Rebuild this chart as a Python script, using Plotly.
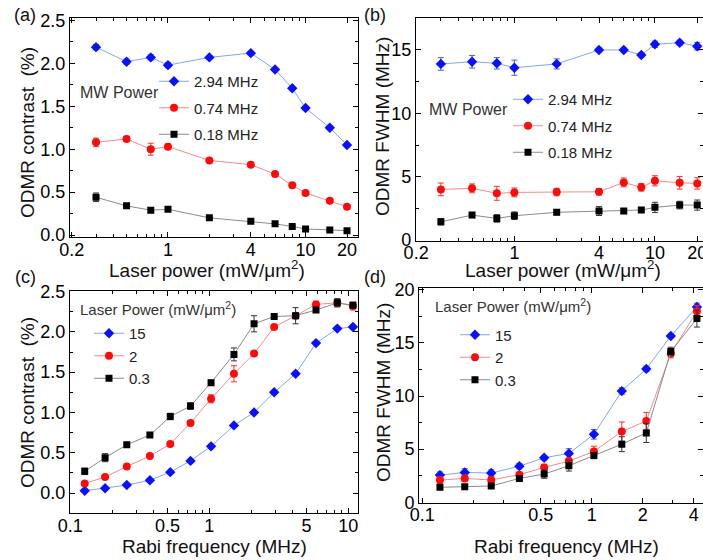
import plotly.graph_objects as go

# ---------------- data ----------------
laser_power = [0.3, 0.5, 0.75, 1, 2, 4, 6, 8, 10, 15, 20]

# (a) ODMR contrast (%) vs laser power, for three MW powers
contrast_294 = [2.19, 2.02, 2.07, 1.98, 2.07, 2.12, 1.93, 1.71, 1.48, 1.25, 1.05]
contrast_294_err = [0.03, 0.03, 0.03, 0.03, 0.02, 0.02, 0.02, 0.02, 0.02, 0.02, 0.02]
contrast_074 = [1.08, 1.12, 1.00, 1.03, 0.87, 0.82, 0.71, 0.58, 0.49, 0.40, 0.33]
contrast_074_err = [0.05, 0.03, 0.07, 0.03, 0.02, 0.02, 0.02, 0.02, 0.02, 0.02, 0.02]
contrast_018 = [0.44, 0.34, 0.29, 0.30, 0.20, 0.16, 0.13, 0.10, 0.07, 0.06, 0.05]
contrast_018_err = [0.05, 0.02, 0.03, 0.02, 0.01, 0.01, 0.01, 0.01, 0.01, 0.01, 0.01]

# (b) ODMR FWHM (MHz) vs laser power
fwhm_294 = [13.9, 14.07, 13.95, 13.6, 13.9, 15.0, 15.0, 14.6, 15.45, 15.57, 15.3]
fwhm_294_err = [0.5, 0.5, 0.45, 0.6, 0.4, 0.15, 0.15, 0.15, 0.25, 0.2, 0.3]
fwhm_074 = [4.0, 4.08, 3.69, 3.76, 3.79, 3.81, 4.55, 4.16, 4.68, 4.52, 4.47]
fwhm_074_err = [0.5, 0.35, 0.55, 0.35, 0.3, 0.25, 0.35, 0.3, 0.4, 0.5, 0.45]
fwhm_018 = [1.44, 1.97, 1.71, 1.92, 2.19, 2.29, 2.29, 2.37, 2.58, 2.76, 2.76]
fwhm_018_err = [0.25, 0.2, 0.3, 0.3, 0.2, 0.35, 0.2, 0.15, 0.4, 0.3, 0.4]

# (c) ODMR contrast (%) vs Rabi frequency, for three laser powers
rabi = [0.127, 0.178, 0.255, 0.374, 0.524, 0.733, 1.03, 1.505, 2.1, 2.93, 4.18, 5.86, 8.34, 10.8]
rc_15 = [0.03, 0.06, 0.10, 0.16, 0.26, 0.40, 0.58, 0.84, 1.00, 1.25, 1.48, 1.86, 2.04, 2.06]
rc_15_err = [0.02] * 14
rc_2 = [0.12, 0.20, 0.33, 0.46, 0.61, 0.87, 1.17, 1.48, 1.73, 2.06, 2.20, 2.34, 2.36, 2.32]
rc_2_err = [0.02, 0.02, 0.02, 0.02, 0.02, 0.02, 0.05, 0.10, 0.03, 0.02, 0.03, 0.04, 0.05, 0.05]
rc_03 = [0.27, 0.44, 0.60, 0.72, 0.95, 1.08, 1.37, 1.72, 2.10, 2.19, 2.20, 2.27, 2.36, 2.33]
rc_03_err = [0.04, 0.05, 0.03, 0.03, 0.04, 0.04, 0.03, 0.08, 0.10, 0.02, 0.10, 0.03, 0.05, 0.03]

# (d) ODMR FWHM (MHz) vs Rabi frequency
rabi_d = [0.127, 0.178, 0.255, 0.374, 0.524, 0.733, 1.03, 1.505, 2.1, 2.93, 4.18]
rf_15 = [2.56, 2.81, 2.75, 3.4, 4.19, 4.6, 6.4, 10.47, 12.56, 15.66, 18.4]
rf_15_err = [0.3, 0.35, 0.3, 0.25, 0.2, 0.45, 0.45, 0.3, 0.25, 0.2, 0.35]
rf_2 = [2.09, 2.25, 2.1, 2.6, 3.28, 3.88, 4.78, 6.66, 7.66, 14.0, 18.0]
rf_2_err = [0.3, 0.3, 0.3, 0.2, 0.3, 0.25, 0.5, 0.9, 0.8, 0.4, 0.5]
rf_03 = [1.41, 1.47, 1.53, 2.25, 2.66, 3.44, 4.4, 5.47, 6.53, 14.2, 17.3]
rf_03_err = [0.2, 0.2, 0.2, 0.2, 0.4, 0.5, 0.3, 0.7, 0.9, 0.4, 0.8]

laser_ticks = [0.2, 1, 4, 10, 20]
laser_minor = [0.3, 0.4, 0.5, 0.6, 0.7, 0.8, 0.9, 2, 3, 5, 6, 7, 8, 9]
rabi_ticks_c = [0.1, 0.5, 1, 5, 10]
rabi_ticks_d = [0.1, 0.5, 1, 2, 4]
rabi_minor = [0.2, 0.3, 0.4, 0.6, 0.7, 0.8, 0.9, 2, 3, 4, 6, 7, 8, 9]
rabi_minor_d = [0.2, 0.3, 0.4, 0.6, 0.7, 0.8, 0.9, 3]

# ---------------- styling ----------------
W, H = 703, 560
FONT = "Liberation Sans, Arial, sans-serif"

def px(x):
    return x / W

def py(y):
    return 1 - y / H

STY = {
    "blue": dict(mc="#0a10ff", lc="#7ea8ee", ec="#4a5cff", sym="diamond", size=8),
    "red": dict(mc="#ff0a0a", lc="#f58a8a", ec="#ff3030", sym="circle", size=8),
    "black": dict(mc="#000000", lc="#8a8a8a", ec="#333333", sym="square", size=7),
}

fig = go.Figure()

def add(x, y, err, xa, ya, sty, name, legend):
    s = STY[sty]
    fig.add_trace(go.Scatter(
        x=x, y=y, xaxis=xa, yaxis=ya, name=name, legend=legend,
        legendgroup=legend + name,
        mode="lines+markers",
        line=dict(color=s["lc"], width=1),
        marker=dict(symbol=s["sym"], size=s["size"], color=s["mc"]),
        error_y=dict(type="data", array=err, visible=True, color=s["ec"],
                     thickness=1, width=3),
    ))

add(laser_power, contrast_294, contrast_294_err, "x", "y", "blue", "2.94 MHz", "legend")
add(laser_power, contrast_074, contrast_074_err, "x", "y", "red", "0.74 MHz", "legend")
add(laser_power, contrast_018, contrast_018_err, "x", "y", "black", "0.18 MHz", "legend")

add(laser_power, fwhm_294, fwhm_294_err, "x2", "y2", "blue", "2.94 MHz", "legend2")
add(laser_power, fwhm_074, fwhm_074_err, "x2", "y2", "red", "0.74 MHz", "legend2")
add(laser_power, fwhm_018, fwhm_018_err, "x2", "y2", "black", "0.18 MHz", "legend2")

add(rabi, rc_15, rc_15_err, "x3", "y3", "blue", "15", "legend3")
add(rabi, rc_2, rc_2_err, "x3", "y3", "red", "2", "legend3")
add(rabi, rc_03, rc_03_err, "x3", "y3", "black", "0.3", "legend3")

add(rabi_d, rf_15, rf_15_err, "x4", "y4", "blue", "15", "legend4")
add(rabi_d, rf_2, rf_2_err, "x4", "y4", "red", "2", "legend4")
add(rabi_d, rf_03, rf_03_err, "x4", "y4", "black", "0.3", "legend4")

def xax(domain, rng, ticks, minor, anchor):
    return dict(type="log", domain=domain, range=rng, anchor=anchor, automargin=False,
                tickmode="array", tickvals=ticks, ticktext=[str(t) for t in ticks],
                ticks="inside", ticklen=5, tickwidth=1, tickcolor="#000",
                ticklabelstandoff=-4, ticklabeloverflow="allow",
                minor=dict(tickmode="array", tickvals=minor, ticks="inside",
                           ticklen=3, tickwidth=1, tickcolor="#000"),
                showline=True, linecolor="#000", linewidth=1.3, mirror="ticks",
                showgrid=False, zeroline=False,
                tickfont=dict(size=18, color="#000", family=FONT))

def yax(domain, rng, ticks, fmt, minor, anchor):
    return dict(domain=domain, range=rng, anchor=anchor, automargin=False,
                tickmode="array", tickvals=ticks,
                ticktext=[fmt.format(t) for t in ticks],
                ticks="inside", ticklen=5, tickwidth=1, tickcolor="#000",
                minor=dict(tickmode="array", tickvals=minor, ticks="inside",
                           ticklen=3, tickwidth=1, tickcolor="#000"),
                showline=True, linecolor="#000", linewidth=1.3, mirror="ticks",
                showgrid=False, zeroline=False,
                tickfont=dict(size=18, color="#000", family=FONT))

c_ticks = [0, 0.5, 1.0, 1.5, 2.0, 2.5]
c_minor = [0.25, 0.75, 1.25, 1.75, 2.25]

fig.update_layout(
    template="none",
    xaxis=xax([px(70), px(358)], [-0.712, 1.381], laser_ticks, laser_minor, "y"),
    yaxis=yax([py(237), py(18.3)], [-0.023, 2.526], c_ticks, "{:.1f}", c_minor, "x"),
    xaxis2=xax([px(416), 1.0], [-0.7, 1.342], laser_ticks, laser_minor, "y2"),
    yaxis2=yax([py(240.7), py(18.3)], [-0.05, 17.5], [0, 5, 10, 15], "{:d}",
               [2.5, 7.5, 12.5], "x2"),
    xaxis3=xax([px(70), px(358)], [-1.002, 1.07], rabi_ticks_c, rabi_minor, "y3"),
    yaxis3=yax([py(513.3), py(290.7)], [-0.25, 2.51], c_ticks, "{:.1f}",
               [-0.25] + c_minor, "x3"),
    xaxis4=xax([px(419.3), 1.0], [-1.018, 0.657], rabi_ticks_d, rabi_minor_d, "y4"),
    yaxis4=yax([py(502.7), py(288.3)], [-0.04, 20.15], [0, 5, 10, 15, 20], "{:d}",
               [2.5, 7.5, 12.5, 17.5], "x4"),
)

def leg(x, y, gap):
    return dict(x=px(x), y=py(y), xanchor="left", yanchor="top",
                bgcolor="rgba(0,0,0,0)", borderwidth=0, itemwidth=30,
                tracegroupgap=gap, traceorder="grouped",
                font=dict(size=15, color="#222", family=FONT))

fig.update_layout(
    legend=leg(154, 65, 4),
    legend2=leg(508, 83, 4),
    legend3=leg(89, 317, 0),
    legend4=leg(455, 318.5, 0),
)

ann = []
def text(x, y, s, size, xanchor="center", angle=0, color="#111"):
    ann.append(dict(x=px(x), y=py(y), xref="paper", yref="paper", text=s,
                    showarrow=False, xanchor=xanchor, yanchor="middle",
                    textangle=angle, font=dict(size=size, color=color, family=FONT)))

# panel labels
text(12, 15, "(a)", 18, "left")
text(362, 15, "(b)", 18, "left")
text(13, 277, "(c)", 18, "left")
text(362, 277, "(d)", 18, "left")

# axis titles
text(207, 269, "Laser power (mW/μm<sup>2</sup>)", 19)
text(563, 269, "Laser power (mW/μm<sup>2</sup>)", 19)
text(214, 546, "Rabi frequency (MHz)", 19)
text(566, 546, "Rabi frequency (MHz)", 19)
text(27, 133, "ODMR contrast\u00a0 (%)", 19, angle=-90)
text(383, 127, "ODMR FWHM (MHz)", 19, angle=-90)
text(27, 403, "ODMR contrast\u00a0 (%)", 19, angle=-90)
text(383, 393, "ODMR FWHM (MHz)", 19, angle=-90)

# legend headers
text(78, 93, "MW Power", 16, "left", color="#333")
text(427, 110, "MW Power", 16, "left", color="#333")
text(78, 308, "Laser Power (mW/μm<sup>2</sup>)", 15, "left", color="#333")
text(433, 305, "Laser Power (mW/μm<sup>2</sup>)", 15, "left", color="#333")

fig.update_layout(
    annotations=ann,
    width=W, height=H,
    margin=dict(l=0, r=0, t=0, b=0, autoexpand=False),
    paper_bgcolor="white", plot_bgcolor="white",
    font=dict(family=FONT, color="#000"),
    showlegend=True,
)

fig.write_html("out.html",
               config={"displayModeBar": False},
               post_script="document.body.style.margin='0px';"
                           "document.body.style.overflow='hidden';")
